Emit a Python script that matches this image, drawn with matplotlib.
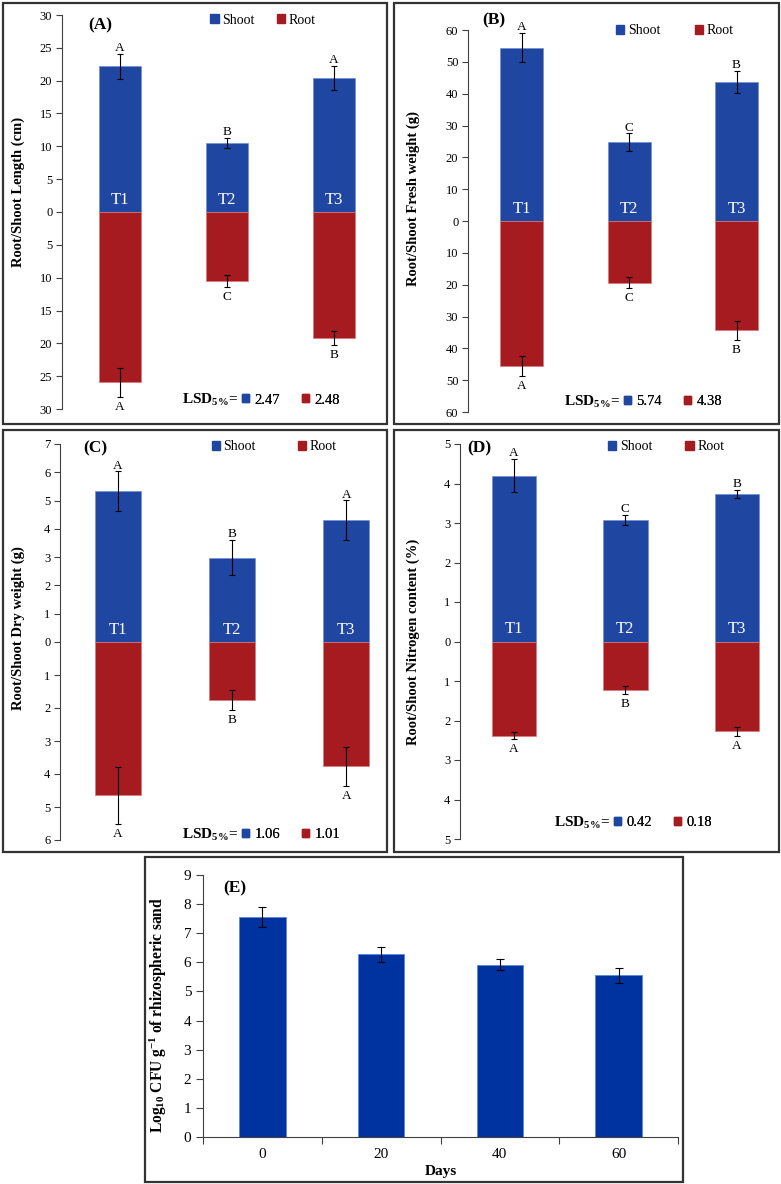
import numpy as np
import matplotlib
matplotlib.use("Agg")
import matplotlib.pyplot as plt
from matplotlib.patches import Patch, Rectangle

plt.rcParams['font.family'] = ['Liberation Serif', 'DejaVu Serif']
plt.rcParams['mathtext.fontset'] = 'custom'
plt.rcParams['mathtext.rm'] = 'Liberation Serif'
plt.rcParams['mathtext.bf'] = 'Liberation Serif:bold'
plt.rcParams['mathtext.it'] = 'Liberation Serif:italic'

# ---- data ----
treatments = ["T1", "T2", "T3"]

len_shoot = [22.2, 10.5, 20.45]
len_shoot_err = [1.9, 0.75, 1.85]
len_root = [25.9, 10.5, 19.2]
len_root_err = [2.2, 0.85, 1.1]
len_shoot_lbl = ["A", "B", "A"]
len_root_lbl = ["A", "C", "B"]
len_lsd = ["2.47", "2.48"]

fw_shoot = [54.5, 24.7, 43.6]
fw_shoot_err = [4.5, 2.8, 3.5]
fw_root = [45.6, 19.4, 34.3]
fw_root_err = [3.1, 1.7, 3.0]
fw_shoot_lbl = ["A", "C", "B"]
fw_root_lbl = ["A", "C", "B"]
fw_lsd = ["5.74", "4.38"]

dw_shoot = [5.33, 2.98, 4.31]
dw_shoot_err = [0.7, 0.62, 0.7]
dw_root = [4.64, 1.76, 3.77]
dw_root_err = [0.86, 0.31, 0.58]
dw_shoot_lbl = ["A", "B", "A"]
dw_root_lbl = ["A", "B", "A"]
dw_lsd = ["1.06", "1.01"]

n_shoot = [4.2, 3.07, 3.74]
n_shoot_err = [0.42, 0.13, 0.1]
n_root = [2.38, 1.23, 2.27]
n_root_err = [0.09, 0.1, 0.11]
n_shoot_lbl = ["A", "C", "B"]
n_root_lbl = ["A", "B", "A"]
n_lsd = ["0.42", "0.18"]

days = ["0", "20", "40", "60"]
cfu = [7.56, 6.27, 5.92, 5.56]
cfu_err = [0.35, 0.27, 0.2, 0.26]

BLUE = "#1f46a0"
RED = "#a51b1f"
EBLUE = "#0033a0"
W, H = 781, 1184

fig = plt.figure(figsize=(W / 100, H / 100), dpi=100)


def fx(x):
    return x / W


def fy(y):
    return 1 - y / H


def frame(x0, y0, x1, y1):
    fig.add_artist(Rectangle((fx(x0), fy(y1)), (x1 - x0) / W, (y1 - y0) / H,
                             transform=fig.transFigure, fill=False,
                             ec="#333333", lw=1.6))


def split_scale(pmax, nmax):
    # upper half holds 0..pmax, lower half 0..nmax (as in the original figure)
    def fwd(y):
        y = np.asarray(y, float)
        return np.where(y >= 0, y / pmax, y / nmax)

    def inv(u):
        u = np.asarray(u, float)
        return np.where(u >= 0, u * pmax, u * nmax)
    return fwd, inv


def panel(box, xlim, pmax, nmax, step, shoot, shoot_err, root, root_err,
          slbl, rlbl, ylabel, ylab_xy, tag, tagxy, leg_xy, colsp, lsd, lsd_xy):
    left, top, right, bottom = box
    ax = fig.add_axes([fx(left), fy(bottom), (right - left) / W, (bottom - top) / H])
    ax.set_yscale("function", functions=split_scale(pmax, nmax))
    x = np.arange(len(treatments))
    ek = dict(ecolor="black", elinewidth=0.8, capsize=2.5, capthick=0.8)
    ax.bar(x, shoot, 0.4, color=BLUE, edgecolor="#6f8fd6", lw=0.5,
           yerr=shoot_err, error_kw=ek)
    ax.bar(x, -np.array(root), 0.4, color=RED, edgecolor="#d77", lw=0.5,
           yerr=root_err, error_kw=ek)
    ax.set_xlim(*xlim)
    ax.set_ylim(-nmax, pmax)
    ticks = list(np.arange(-nmax, 0, step)) + list(np.arange(0, pmax + step / 2, step))
    ax.set_yticks(ticks)
    ax.set_yticklabels([f"{abs(t):g}" for t in ticks], fontsize=9)
    ax.set_xticks([])
    for s in ["top", "right", "bottom"]:
        ax.spines[s].set_visible(False)
    ax.spines["left"].set_color("#404040")
    ax.spines["left"].set_linewidth(0.8)
    ax.tick_params(axis="y", direction="out", length=4, width=0.8,
                   color="#404040", pad=3)
    for i in range(len(treatments)):
        ax.annotate(slbl[i], (i, shoot[i] + shoot_err[i]), xytext=(0, 2),
                    textcoords="offset points", ha="center", va="baseline",
                    fontsize=9.5)
        ax.annotate(rlbl[i], (i, -(root[i] + root_err[i])), xytext=(0, -3),
                    textcoords="offset points", ha="center", va="top",
                    fontsize=9.5)
        ax.annotate(treatments[i], (i, 0), xytext=(0, 6),
                    textcoords="offset points", ha="center", va="baseline",
                    fontsize=12, color="white")
    fig.text(fx(ylab_xy[0]), fy(ylab_xy[1]), ylabel, rotation=90,
             ha="center", va="center", fontsize=10.5, fontweight="bold")
    fig.text(fx(tagxy[0]), fy(tagxy[1]), tag, ha="left", va="center",
             fontsize=12.5, fontweight="bold")
    leg1 = ax.legend(handles=[Patch(color=BLUE), Patch(color=RED)],
                     labels=["Shoot", "Root"], ncol=2, frameon=False, fontsize=10,
                     handlelength=0.6, handleheight=0.6, handletextpad=0.25,
                     columnspacing=colsp, loc="center", borderpad=0,
                     borderaxespad=0,
                     bbox_to_anchor=(fx(leg_xy[0]), fy(leg_xy[1])),
                     bbox_transform=fig.transFigure)
    ax.add_artist(leg1)
    fig.text(fx(lsd_xy[0]), fy(lsd_xy[1]), r"$\mathbf{LSD}_{\mathbf{5\%}}$=",
             ha="right", va="center", fontsize=11, fontweight="bold")
    leg2 = ax.legend(handles=[Patch(color=BLUE), Patch(color=RED)], labels=lsd,
                     ncol=2, frameon=False, fontsize=10.5, handlelength=0.5,
                     handleheight=0.5, handletextpad=0.35, columnspacing=1.5,
                     loc="center left", borderpad=0, borderaxespad=0,
                     bbox_to_anchor=(fx(lsd_xy[0] + 4), fy(lsd_xy[1])),
                     bbox_transform=fig.transFigure)
    ax.add_artist(leg2)
    return ax


frame(3, 3, 387, 424)
frame(394, 3, 779, 424)
frame(3, 430, 387, 852)
frame(394, 430, 779, 852)
frame(145, 857, 683, 1182)

axA = panel((62, 15, 385, 409), (-0.542, 2.477), 30, 30, 5,
            len_shoot, len_shoot_err, len_root, len_root_err,
            len_shoot_lbl, len_root_lbl, "Root/Shoot Length (cm)", (18, 192),
            "(A)", (88, 25), (263, 20), 1.6, len_lsd, (238, 400))
axB = panel((468, 30, 777, 412), (-0.5, 2.377), 60, 60, 10,
            fw_shoot, fw_shoot_err, fw_root, fw_root_err,
            fw_shoot_lbl, fw_root_lbl, "Root/Shoot Fresh weight (g)", (413, 199),
            "(B)", (482, 20), (675, 31), 2.5, fw_lsd, (620, 402))
axC = panel((60, 444, 385, 840), (-0.509, 2.34), 7, 6, 1,
            dw_shoot, dw_shoot_err, dw_root, dw_root_err,
            dw_shoot_lbl, dw_root_lbl, "Root/Shoot Dry weight (g)", (18, 628),
            "(C)", (83, 448), (274, 447), 3.0, dw_lsd, (238, 835))
axD = panel((460, 444, 777, 839), (-0.484, 2.36), 5, 5, 1,
            n_shoot, n_shoot_err, n_root, n_root_err,
            n_shoot_lbl, n_root_lbl, "Root/Shoot Nitrogen content (%)", (413, 642),
            "(D)", (467, 448), (666, 447), 2.4, n_lsd, (610, 823))

# ---- panel E ----
axE = fig.add_axes([fx(203), fy(1137), (678 - 203) / W, (1137 - 875) / H])
xe = np.arange(len(days))
axE.bar(xe, cfu, 0.39, color=EBLUE, edgecolor="#5a86de", lw=0.6, yerr=cfu_err,
        error_kw=dict(ecolor="black", elinewidth=0.8, capsize=3, capthick=0.8))
axE.set_xlim(-0.5, len(days) - 0.5)
axE.set_ylim(0, 9)
axE.set_yticks(range(0, 10))
axE.set_xticks(np.arange(-0.5, len(days), 1.0))
axE.set_xticklabels([])
axE.set_xticks(xe, minor=True)
axE.set_xticklabels(days, minor=True)
axE.tick_params(axis="x", which="minor", length=0, labelsize=11, pad=8)
axE.tick_params(axis="x", which="major", direction="out", length=5, width=0.8,
                color="#404040")
axE.tick_params(axis="y", direction="out", length=5, width=0.8,
                color="#404040", labelsize=11)
for s in ["top", "right"]:
    axE.spines[s].set_visible(False)
for s in ["left", "bottom"]:
    axE.spines[s].set_color("#404040")
    axE.spines[s].set_linewidth(0.8)
fig.text(fx(158), fy(1015),
         r"$\mathbf{Log_{10}\ CFU\ g^{-1}\ of\ rhizospheric\ sand}$",
         rotation=90, ha="center", va="center", fontsize=11.2)
fig.text(fx(440.5), fy(1172), "Days", ha="center", va="center",
         fontsize=11, fontweight="bold")
fig.text(fx(223), fy(888), "(E)", ha="left", va="center", fontsize=12.5,
         fontweight="bold")

fig.savefig("out.png", dpi=100)
